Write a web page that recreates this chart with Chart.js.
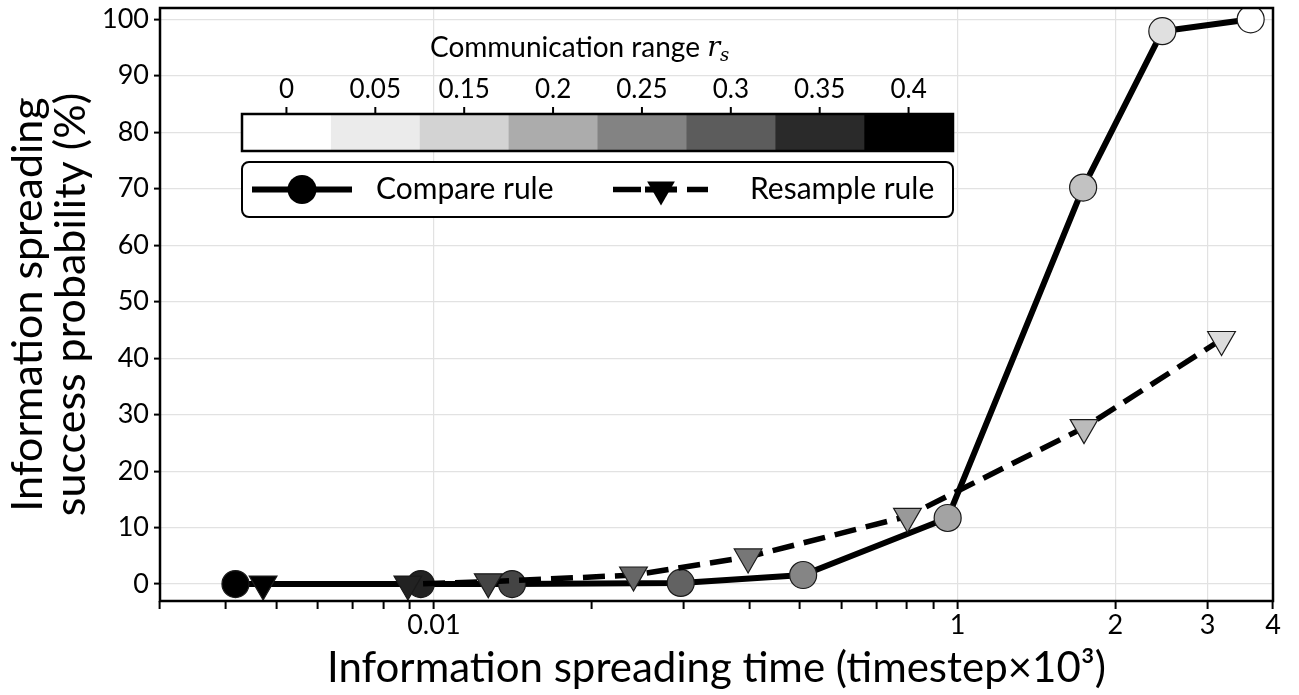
<!DOCTYPE html>
<html>
<head>
<meta charset="utf-8">
<script src="https://cdn.jsdelivr.net/npm/chart.js@4.4.1/dist/chart.umd.min.js"></script>
<style>
  html, body { margin: 0; padding: 0; background: #fff; }
</style>
</head>
<body>
<canvas id="spread-chart" width="1299" height="695"></canvas>
<script>
// Compare rule: spreading time (x10^3 timesteps) vs success probability (%)
const compareTime = [0.0418, 0.0944, 0.141, 0.296, 0.507, 0.957, 1.736, 2.459, 3.626];
const compareProb = [0, 0, 0, 0.2, 1.6, 11.7, 70.2, 97.9, 100];
const compareShade = ['#000000', '#222222', '#444444', '#626262', '#858585', '#a3a3a3', '#c2c2c2', '#e0e0e0', '#ffffff'];

// Resample rule
const resampleTime = [0.0472, 0.0892, 0.127, 0.2405, 0.398, 0.802, 1.743, 3.19];
const resampleProb = [0, 0, 0.4, 1.6, 4.8, 12, 27.7, 43.3];
const resampleShade = ['#000000', '#222222', '#444444', '#666666', '#777777', '#999999', '#bbbbbb', '#dddddd'];

// Communication range colour bar
const rangeLabels = ['0', '0.05', '0.15', '0.2', '0.25', '0.3', '0.35', '0.4'];
const rangeShades = ['#ffffff', '#ebebeb', '#d3d3d3', '#acacac', '#838383', '#5c5c5c', '#2a2a2a', '#000000'];

// Axis ticks
const xTicks = [0.03, 0.04, 0.05, 0.06, 0.07, 0.08, 0.09, 0.1, 0.2, 0.3, 0.4, 0.5, 0.6, 0.7, 0.8, 0.9, 1, 2, 3, 4];
const xTickText = { 0.1: '0.01', 1: '1', 2: '2', 3: '3', 4: '4' };
const xGridAt = [0.1, 1, 2, 3];
const yTicks = [0, 10, 20, 30, 40, 50, 60, 70, 80, 90, 100];

const FONT = 'Lato';
const GRID = '#e2e2e2';

// frame, colour bar and legend box drawn on top of the chart
const overlay = {
    id: 'overlay',
    afterDraw(chart) {
        const { ctx, chartArea: a } = chart;
        ctx.save();
        ctx.strokeStyle = '#000';
        ctx.lineWidth = 2.5;
        ctx.strokeRect(a.left, a.top, a.right - a.left, a.bottom - a.top);

        // colour bar
        const bx = a.left + 82, by = a.top + 106, bw = 711, bh = 37;
        const cell = bw / rangeShades.length;
        rangeShades.forEach((c, i) => {
            ctx.fillStyle = c;
            ctx.fillRect(bx + i * cell, by, cell + 0.5, bh);
        });
        ctx.lineWidth = 2.5;
        ctx.strokeRect(bx, by, bw, bh);
        ctx.fillStyle = '#000';
        ctx.font = '26px ' + FONT;
        ctx.textAlign = 'center';
        ctx.textBaseline = 'middle';
        ctx.lineWidth = 2;
        rangeLabels.forEach((t, i) => {
            const cx = bx + (i + 0.5) * cell;
            ctx.beginPath();
            ctx.moveTo(cx, by);
            ctx.lineTo(cx, by - 7);
            ctx.stroke();
            ctx.fillText(t, cx, by - 24);
        });
        // colour bar title with italic r_s
        const title = 'Communication range ';
        ctx.font = '28px ' + FONT;
        const tw = ctx.measureText(title).width;
        ctx.font = 'italic 27px "DejaVu Serif"';
        const rw = ctx.measureText('r').width;
        const tx = bx + 188;
        const ty = by - 66;
        ctx.textAlign = 'left';
        ctx.font = '28px ' + FONT;
        ctx.fillText(title, tx, ty);
        ctx.font = 'italic 27px "DejaVu Serif"';
        ctx.fillText('r', tx + tw, ty + 1);
        ctx.font = 'italic 18px "DejaVu Serif"';
        ctx.fillText('s', tx + tw + rw, ty + 8);

        // legend box
        const lx = a.left + 82, ly = a.top + 154, lw = 711, lh = 55;
        ctx.beginPath();
        ctx.roundRect(lx, ly, lw, lh, 7);
        ctx.fillStyle = '#fff';
        ctx.fill();
        ctx.lineWidth = 2;
        ctx.stroke();
        const my = ly + lh / 2;
        // compare rule entry
        ctx.lineWidth = 6;
        ctx.beginPath();
        ctx.moveTo(lx + 10, my);
        ctx.lineTo(lx + 110, my);
        ctx.stroke();
        ctx.beginPath();
        ctx.arc(lx + 60, my, 14.5, 0, Math.PI * 2);
        ctx.fillStyle = '#000';
        ctx.fill();
        // resample rule entry
        ctx.lineWidth = 5.5;
        ctx.beginPath();
        ctx.moveTo(lx + 371, my);
        ctx.lineTo(lx + 399, my);
        ctx.moveTo(lx + 445, my);
        ctx.lineTo(lx + 466, my);
        ctx.stroke();
        ctx.lineWidth = 6;
        ctx.beginPath();
        ctx.moveTo(lx + 403, my);
        ctx.lineTo(lx + 435, my);
        ctx.stroke();
        const r = 16, tcx = lx + 419, tcy = my;
        ctx.beginPath();
        ctx.moveTo(tcx, tcy + r);
        ctx.lineTo(tcx - r * 0.866, tcy - r / 2);
        ctx.lineTo(tcx + r * 0.866, tcy - r / 2);
        ctx.closePath();
        ctx.fill();
        ctx.font = '30px ' + FONT;
        ctx.textAlign = 'left';
        ctx.textBaseline = 'middle';
        ctx.fillText('Compare rule', lx + 134, my);
        ctx.fillText('Resample rule', lx + 508, my);
        ctx.restore();
    }
};

const spreadChart = new Chart(document.getElementById('spread-chart'), {
    type: 'line',
    data: {
        datasets: [{
            label: 'Compare rule',
            data: compareTime.map((t, i) => ({ x: t, y: compareProb[i] })),
            borderColor: '#000',
            borderWidth: 6,
            borderJoinStyle: 'round',
            pointStyle: 'circle',
            pointRadius: 13.5,
            pointBackgroundColor: compareShade,
            pointBorderColor: '#1a1a1a',
            pointBorderWidth: 1.2,
            order: 1
        }, {
            label: 'Resample rule',
            data: resampleTime.map((t, i) => ({ x: t, y: resampleProb[i] })),
            borderColor: '#000',
            borderWidth: 5.5,
            borderDash: [22, 10],
            pointStyle: 'triangle',
            rotation: 180,
            pointRadius: 16,
            pointBackgroundColor: resampleShade,
            pointBorderColor: '#1a1a1a',
            pointBorderWidth: 1.2,
            order: 0
        }]
    },
    options: {
        responsive: false,
        animation: false,
        devicePixelRatio: 1,
        layout: { autoPadding: false, padding: { top: 8, right: 26, left: 0, bottom: 0 } },
        plugins: { legend: { display: false }, tooltip: { enabled: false } },
        scales: {
            x: {
                type: 'logarithmic',
                min: 0.03,
                max: 4,
                afterBuildTicks: s => { s.ticks = xTicks.map(v => ({ value: v })); },
                afterFit: s => { s.height = 94; s.paddingLeft = 0; s.paddingRight = 0; },
                border: { display: false },
                grid: {
                    color: c => xGridAt.includes(c.tick && c.tick.value) ? GRID : 'rgba(0,0,0,0)',
                    lineWidth: 1.2,
                    tickColor: '#000',
                    tickWidth: 2,
                    tickLength: 8
                },
                ticks: {
                    autoSkip: false,
                    maxRotation: 0,
                    padding: 3,
                    color: '#000',
                    font: { family: FONT, size: 27, lineHeight: 1 },
                    callback: v => xTickText[v] || ''
                },
                title: {
                    display: true,
                    text: 'Information spreading time (timestep×10³)',
                    color: '#000',
                    font: { family: FONT, size: 42, lineHeight: 1.15 },
                    padding: { top: 0, bottom: 2 }
                }
            },
            y: {
                min: -3,
                max: 102,
                afterBuildTicks: s => { s.ticks = yTicks.map(v => ({ value: v })); },
                afterFit: s => { s.width = 160; s.paddingTop = 0; s.paddingBottom = 0; },
                border: { display: false },
                grid: {
                    color: GRID,
                    lineWidth: 1.2,
                    tickColor: '#000',
                    tickWidth: 2,
                    tickLength: 6
                },
                ticks: {
                    padding: 5,
                    color: '#000',
                    font: { family: FONT, size: 27, lineHeight: 1 }
                },
                title: {
                    display: true,
                    text: ['Information spreading', 'success probability (%)'],
                    color: '#000',
                    font: { family: FONT, size: 43, lineHeight: 1.0 },
                    padding: { top: 7, bottom: 0 }
                }
            }
        }
    },
    plugins: [overlay]
});
</script>
</body>
</html>
